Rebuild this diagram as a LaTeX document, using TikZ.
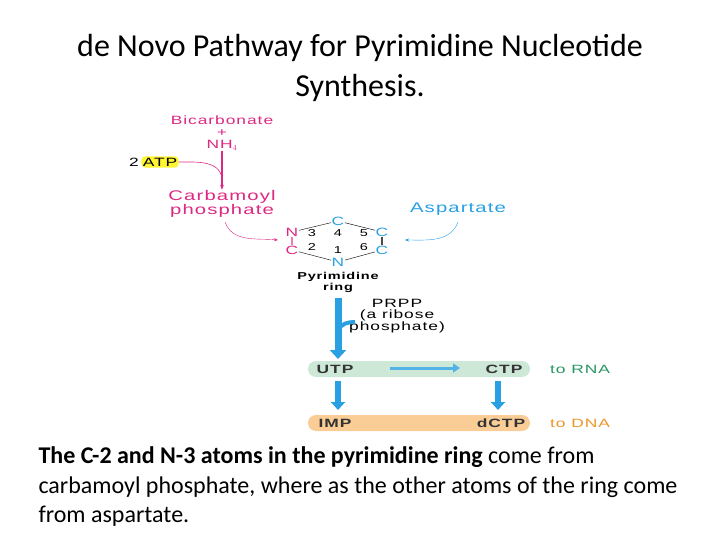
\documentclass[tikz,border=0pt]{standalone}
\usepackage{fontspec}
\setmainfont{Carlito}
\newfontfamily\dg[FakeStretch=1.45, LetterSpace=8]{Liberation Sans}
\usetikzlibrary{arrows.meta}
\definecolor{mag}{RGB}{220,40,130}
\definecolor{sky}{RGB}{40,160,225}
\definecolor{grn}{RGB}{40,150,100}
\definecolor{org}{RGB}{235,150,40}
\definecolor{gbar}{RGB}{205,232,215}
\definecolor{obar}{RGB}{250,205,150}
\tikzset{
 lbl/.style={font=\dg\fontsize{12}{11}\selectfont, inner sep=0.5pt},
 mg/.style={lbl,text=mag},
 bl/.style={lbl,text=sky},
 atomb/.style={lbl,text=sky},
 num/.style={lbl,font=\dg\fontsize{10}{10}\selectfont},
 bar/.style={rounded corners=8pt, draw=none},
 big/.style={-{Triangle[length=9pt,width=16pt]}, line width=7pt, sky},
 bold/.style={lbl, font=\dg\bfseries\fontsize{12}{12}\selectfont, text=black!80},
}
\begin{document}
\begin{tikzpicture}[x=1pt,y=-1pt]
\useasboundingbox (0,0) rectangle (720,540);
\node (t1) at (360,48) {\fontsize{32}{36}\selectfont de Novo Pathway for Pyrimidine Nucleotide};
\node (t2) at (360,88) {\fontsize{32}{36}\selectfont Synthesis.};
\node[mg] (bic) at (222,120) {Bicarbonate};
\node[mg] (plus) at (222,133) {+};
\node[mg] (nh4) at (222,145) {NH$_4$};
\node[lbl] (two) at (134,162) {2};
\node[lbl, fill=yellow!80, rounded corners=4pt, inner sep=1.5pt] (atp) at (160,162) {ATP};
\node[mg, align=center, font=\dg\fontsize{14}{14}\selectfont] (carb) at (222,204) {Carbamoyl\\phosphate};
\coordinate (mid) at (222,178);
\draw[mag, line width=1.2pt, -{Stealth[length=5pt]}] (nh4.south) -- (carb.north);
\draw[mag, line width=0.6pt] (atp.east) to[out=0,in=100] (mid);
% ring
\node[mg] (n3) at (292,232) {N};
\node[mg] (c2) at (292,250) {C};
\node[atomb] (c4) at (338,221) {C};
\node[atomb] (n1) at (338,262) {N};
\node[atomb] (c5) at (382,232) {C};
\node[atomb] (c6) at (382,250) {C};
\draw[mag!60, line width=1.2pt] (n3) -- (c2);
\draw[black!70, line width=1.2pt] (c5) -- (c6);
\draw[thin] (n3) -- (c4) -- (c5);
\draw[thin] (c2) -- (n1) -- (c6);
\node[num] (k3) at (312,233) {3};
\node[num] (k4) at (338,233) {4};
\node[num] (k5) at (364,233) {5};
\node[num] (k2) at (312,247) {2};
\node[num] (k1) at (338,250) {1};
\node[num] (k6) at (364,247) {6};
\node[bl, font=\dg\fontsize{14}{14}\selectfont] (asp) at (458,209) {Aspartate};
\coordinate (ringR) at (405,240);
\coordinate (ringL) at (278,240);
\draw[mag, -{Stealth[length=4pt]}] (225,222) to[out=-70,in=175] (ringL);
\draw[sky, -{Stealth[length=4pt]}] (458,222) to[out=-110,in=0] (ringR);
\node[lbl, font=\dg\bfseries\fontsize{10}{11}\selectfont, align=center] (pyr) at (338,282) {Pyrimidine\\ring};
\node[lbl, align=center, font=\dg\fontsize{12}{11.5}\selectfont] (prpp) at (397,316) {PRPP\\(a ribose\\phosphate)};
% bars
\fill[gbar, bar] (308,361) rectangle (530,377);
\fill[obar, bar] (308,415) rectangle (530,431);
\node[bold] (utp) at (335,369) {UTP};
\node[bold] (ctp) at (504,369) {CTP};
\node[lbl, text=grn] (rna) at (580,369) {to RNA};
\node[bold] (imp) at (335,423) {IMP};
\node[bold] (dctp) at (501,423) {dCTP};
\node[lbl, text=org] (dna) at (580,423) {to DNA};
\coordinate (join) at (338,330);
\coordinate (bigtop) at (338,298);
\coordinate (bigend) at (338,359);
\coordinate (prppl) at (355,322);
\draw[big] (bigtop) -- (bigend);
\draw[sky, line width=4pt] (prppl) to[out=180,in=60] (join);
\coordinate (ha) at (390,368);
\coordinate (hb) at (460,368);
\draw[-{Triangle[length=7pt,width=9pt]}, line width=3pt, sky!80] (ha) -- (hb);
\coordinate (d1a) at (338,381); \coordinate (d1b) at (338,410);
\coordinate (d2a) at (498,381); \coordinate (d2b) at (498,410);
\draw[-{Triangle[length=8pt,width=14pt]}, line width=6pt, sky] (d1a) -- (d1b);
\draw[-{Triangle[length=8pt,width=14pt]}, line width=6pt, sky] (d2a) -- (d2b);
% caption
\node[anchor=west] (cap1) at (35,457) {\fontsize{24}{26}\selectfont\textbf{The C-2 and N-3 atoms in the pyrimidine ring} come from};
\node[anchor=west] (cap2) at (35,487) {\fontsize{24}{26}\selectfont carbamoyl phosphate, where as the other atoms of the ring come};
\node[anchor=west] (cap3) at (35,516) {\fontsize{24}{26}\selectfont from aspartate.};
\end{tikzpicture}
\end{document}
